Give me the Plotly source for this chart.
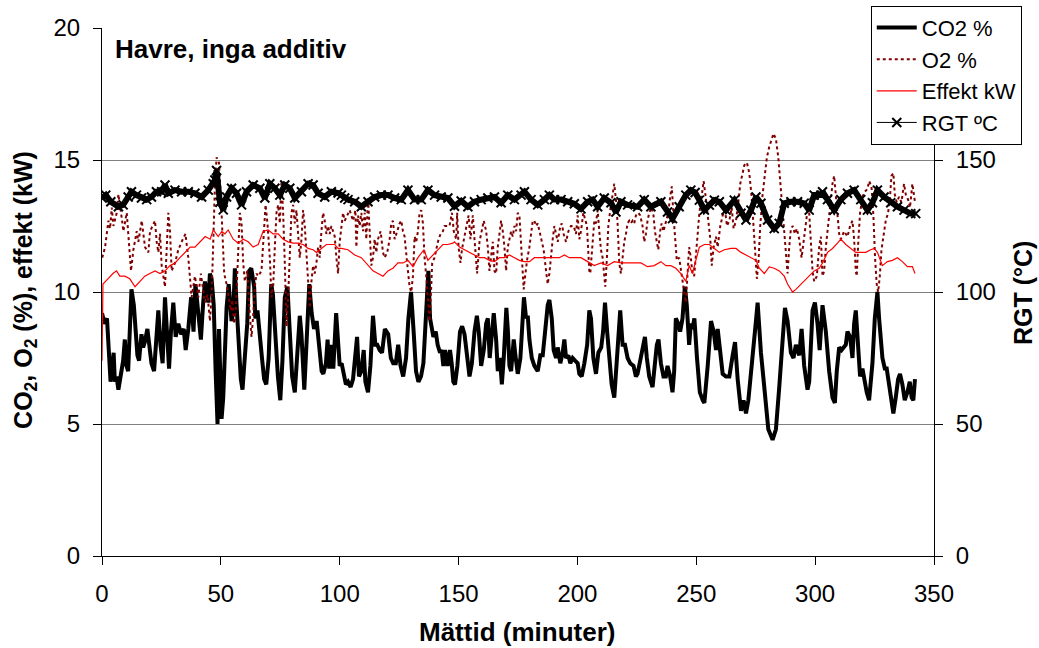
import plotly.graph_objects as go

# ---------------- data ----------------
co2_t = [0.0, 1.1, 2.1, 2.9, 3.6, 4.3, 4.9, 5.4, 6.1, 6.9, 7.8, 8.9, 9.6, 10.3, 11.0, 11.7, 12.4, 13.4, 14.1, 14.9,
         15.6, 16.6, 17.3, 18.0, 19.1, 20.1, 20.8, 21.9, 22.9, 23.7, 24.6, 25.5, 26.5, 27.6, 28.2, 29.0, 30.0, 31.0, 32.1, 33.3,
         34.4, 35.2, 36.3, 37.5, 38.5, 39.3, 40.4, 41.6, 42.5, 43.3, 44.7, 45.4, 46.1, 47.0, 47.8, 48.6, 49.2, 49.8, 50.3, 51.0,
         52.4, 53.3, 54.5, 55.2, 55.9, 56.6, 57.6, 58.4, 59.1, 60.1, 61.1, 61.9, 62.8, 64.0, 64.5, 65.4, 66.3, 67.3, 68.2, 69.1,
         70.1, 71.2, 71.9, 72.9, 74.0, 75.0, 75.9, 76.9, 78.0, 79.0, 80.0, 81.1, 82.2, 83.2, 83.9, 85.1, 86.0, 87.2, 88.2, 89.2,
         90.3, 91.2, 92.4, 93.1, 94.2, 94.9, 95.6, 96.3, 97.3, 98.5, 99.3, 100.0, 100.8, 101.9, 102.6, 103.5, 104.6, 105.6, 106.6, 107.3,
         108.1, 109.1, 110.1, 110.8, 111.9, 112.9, 114.0, 115.0, 115.8, 116.8, 117.8, 119.0, 120.4, 121.5, 122.5, 123.6, 124.6, 125.6, 126.7, 127.9,
         128.9, 130.0, 131.1, 132.1, 133.1, 134.2, 135.2, 136.6, 137.3, 138.0, 138.7, 139.4, 140.4, 141.2, 142.2, 142.9, 143.6, 144.3, 145.4, 146.4,
         147.1, 147.8, 148.5, 149.5, 150.6, 151.5, 152.5, 153.5, 154.6, 155.6, 156.7, 157.7, 158.5, 159.5, 160.6, 161.6, 162.3, 163.1, 164.0, 164.8,
         165.8, 166.5, 167.4, 168.2, 169.0, 170.1, 170.7, 171.4, 172.1, 173.2, 173.9, 174.9, 176.0, 177.0, 177.5, 178.4, 179.1, 179.8, 180.8, 181.9,
         183.3, 184.4, 185.4, 186.4, 187.5, 188.2, 189.2, 190.0, 191.0, 191.7, 192.8, 193.8, 194.5, 195.2, 196.2, 197.0, 198.0, 199.0, 200.1, 200.8,
         201.8, 202.9, 204.1, 205.0, 205.7, 206.7, 207.8, 208.8, 210.0, 210.8, 211.6, 212.5, 213.4, 214.4, 215.5, 216.5, 217.3, 218.0, 219.0, 220.0,
         221.1, 222.2, 223.6, 224.6, 225.3, 226.4, 227.4, 228.4, 229.2, 230.2, 231.6, 232.6, 233.4, 234.1, 235.1, 236.2, 237.2, 237.9, 239.0, 240.0,
         240.7, 241.4, 242.4, 243.2, 244.2, 245.2, 246.0, 247.0, 247.7, 248.4, 249.2, 250.3, 251.5, 252.7, 253.4, 254.8, 256.2, 257.3, 258.3, 259.0,
         260.1, 261.1, 262.5, 263.9, 265.3, 266.3, 267.4, 268.8, 269.9, 270.9, 271.9, 273.7, 275.1, 275.8, 277.2, 278.6, 280.3, 282.1, 283.5, 284.9,
         286.3, 287.3, 288.4, 289.8, 290.9, 291.9, 293.3, 294.3, 295.4, 296.8, 297.5, 298.9, 299.9, 301.0, 301.9, 303.1, 304.5, 305.9, 307.3, 308.3,
         309.1, 310.1, 311.1, 311.9, 312.9, 313.6, 314.7, 315.7, 316.4, 317.1, 317.8, 318.9, 319.9, 320.6, 321.7, 322.7, 324.1, 325.1, 326.2, 326.9,
         327.6, 328.3, 329.3, 330.1, 331.1, 332.1, 332.9, 333.9, 334.9, 335.7, 336.7, 337.7, 338.8, 339.8, 340.6, 341.3, 342.0]
co2_v = [9.2, 8.8, 9.0, 7.5, 6.6, 7.2, 7.7, 6.6, 6.8, 6.3, 6.9, 7.4, 8.2, 7.2, 7.0, 9.0, 10.1, 9.5, 8.4, 7.6,
         7.4, 8.4, 7.9, 8.1, 8.6, 7.6, 7.3, 7.0, 8.6, 9.3, 8.0, 7.3, 9.8, 8.0, 7.1, 8.5, 9.6, 8.3, 8.8, 8.4,
         8.6, 7.8, 8.6, 9.8, 8.5, 10.3, 9.2, 8.2, 9.5, 10.4, 9.6, 10.7, 10.5, 9.5, 7.0, 5.0, 8.6, 6.5, 5.2, 6.0,
         9.4, 10.3, 8.9, 9.2, 10.9, 9.5, 7.9, 6.7, 6.3, 7.5, 8.8, 10.8, 10.9, 10.2, 9.0, 9.3, 8.3, 7.5, 6.7, 6.5,
         7.5, 10.3, 9.9, 8.2, 6.8, 5.9, 7.4, 9.8, 10.2, 8.5, 6.8, 6.2, 7.5, 9.1, 8.4, 6.3, 8.0, 10.3, 9.2, 8.6,
         8.9, 8.1, 7.0, 6.9, 7.3, 8.2, 7.1, 8.0, 7.1, 9.2, 8.0, 7.2, 7.3, 6.7, 6.5, 6.6, 6.4, 6.7, 7.5, 8.3,
         6.8, 7.0, 7.8, 6.6, 6.2, 7.2, 9.1, 8.0, 8.0, 7.8, 7.7, 8.6, 8.4, 7.5, 7.3, 7.3, 8.0, 7.2, 6.8, 7.5,
         9.0, 10.0, 8.5, 7.0, 6.6, 6.8, 7.3, 9.5, 10.8, 9.0, 8.6, 8.3, 8.5, 8.0, 7.7, 7.8, 7.2, 7.8, 7.2, 7.8,
         7.3, 6.6, 6.5, 7.2, 8.5, 8.7, 8.4, 7.5, 6.8, 7.3, 8.5, 9.1, 8.5, 7.2, 7.8, 8.8, 9.0, 7.5, 8.6, 9.2,
         8.2, 7.0, 7.5, 6.5, 7.5, 9.4, 8.6, 7.2, 7.0, 8.2, 7.6, 6.9, 7.5, 9.0, 9.8, 9.0, 9.1, 8.2, 7.5, 7.2,
         7.0, 7.6, 7.6, 8.5, 9.5, 9.7, 9.0, 7.8, 7.5, 7.9, 7.3, 7.7, 8.2, 7.5, 7.6, 7.3, 7.5, 7.4, 7.3, 6.9,
         6.8, 7.3, 8.0, 9.3, 9.0, 7.5, 6.9, 7.7, 7.9, 8.5, 9.6, 8.5, 7.5, 6.5, 6.0, 7.3, 8.5, 9.3, 8.0, 8.0,
         7.5, 7.3, 7.2, 6.8, 6.9, 7.4, 8.0, 8.3, 7.5, 6.8, 6.4, 7.2, 8.0, 8.2, 7.3, 6.8, 6.8, 7.2, 6.8, 6.2,
         7.0, 9.0, 8.8, 8.5, 9.0, 10.2, 9.5, 8.0, 8.8, 8.6, 9.0, 7.5, 6.2, 5.9, 5.8, 7.2, 8.9, 8.5, 7.8, 8.6,
         7.7, 6.9, 6.8, 6.8, 7.6, 8.1, 6.7, 5.5, 5.9, 5.4, 5.9, 7.4, 8.9, 9.6, 7.7, 6.4, 4.8, 4.4, 4.8, 6.4,
         8.3, 9.4, 8.9, 7.7, 7.5, 8.0, 7.6, 8.6, 7.2, 6.3, 6.6, 9.3, 9.6, 8.8, 7.8, 9.5, 8.5, 7.0, 6.0, 5.8,
         7.0, 7.9, 7.8, 7.9, 8.0, 8.5, 8.3, 7.5, 8.8, 9.3, 8.5, 6.8, 7.1, 6.7, 6.2, 5.9, 7.3, 9.0, 10.0, 9.0,
         8.0, 7.5, 7.1, 7.1, 6.5, 5.8, 5.4, 6.0, 6.7, 6.9, 6.5, 5.9, 6.2, 6.6, 6.0, 5.9, 6.7]

o2_t = [0.1, 1.3, 2.7, 3.4, 4.1, 4.8, 6.2, 6.9, 8.3, 9.0, 10.4, 11.1, 12.2, 13.2, 14.6, 15.3, 16.7, 18.1, 19.5, 20.2,
        21.6, 22.3, 23.0, 23.7, 24.4, 25.1, 26.5, 27.2, 27.9, 28.6, 29.3, 30.7, 32.1, 33.5, 35.1, 36.3, 37.0, 37.7, 39.1, 40.5,
        41.6, 42.6, 43.3, 44.4, 45.4, 46.1, 46.8, 47.5, 48.2, 49.2, 50.0, 50.6, 51.4, 52.4, 53.4, 54.2, 54.8, 55.6, 56.2, 57.0,
        58.0, 58.7, 59.4, 60.1, 61.1, 62.2, 62.9, 63.6, 64.3, 65.0, 65.7, 67.1, 68.2, 68.8, 69.6, 70.6, 71.3, 72.0, 72.7, 73.4,
        74.1, 74.8, 75.5, 76.2, 76.9, 77.6, 78.3, 79.0, 79.7, 80.4, 81.1, 81.8, 82.5, 83.2, 83.9, 84.6, 85.3, 86.0, 86.7, 87.4,
        88.1, 88.8, 89.5, 90.2, 90.9, 91.6, 92.3, 93.0, 93.7, 94.4, 95.1, 95.8, 96.5, 97.2, 97.9, 98.6, 99.3, 100.0, 100.7, 101.4,
        102.1, 104.2, 105.6, 106.6, 107.0, 107.7, 108.4, 109.1, 109.8, 110.5, 111.2, 111.9, 112.6, 113.3, 114.0, 114.7, 115.4, 116.1, 117.2, 118.2,
        118.9, 120.0, 121.0, 121.7, 122.4, 123.1, 124.2, 125.2, 125.9, 126.6, 127.3, 128.0, 128.7, 129.4, 130.1, 130.8, 131.5, 132.2, 132.9, 133.6,
        134.3, 135.0, 135.7, 136.4, 137.1, 137.8, 138.5, 138.9, 139.9, 141.3, 142.4, 143.4, 144.1, 145.2, 146.2, 147.2, 148.0, 149.0, 149.4, 150.0,
        150.8, 151.4, 152.5, 153.6, 154.2, 155.0, 156.0, 156.7, 157.4, 157.8, 158.8, 159.8, 160.6, 161.6, 162.3, 163.0, 163.7, 164.4, 165.1, 165.8,
        166.5, 167.2, 167.9, 168.6, 169.3, 170.0, 170.7, 171.4, 172.1, 172.8, 173.5, 174.2, 174.9, 175.6, 176.3, 177.0, 177.4, 178.0, 178.8, 179.8,
        180.5, 181.2, 181.9, 182.6, 183.3, 184.0, 184.7, 185.8, 186.8, 187.5, 188.2, 188.9, 189.6, 190.3, 191.0, 191.7, 192.8, 193.4, 194.2, 195.2,
        196.2, 197.3, 198.4, 199.4, 200.1, 200.8, 201.5, 202.5, 204.0, 204.6, 205.0, 205.4, 206.4, 207.1, 207.8, 208.5, 209.2, 209.9, 210.6, 211.3,
        211.7, 212.4, 213.0, 213.8, 214.8, 215.5, 216.2, 216.9, 217.6, 218.3, 219.0, 219.7, 220.4, 221.1, 221.8, 222.5, 223.2, 223.9, 224.6, 225.6,
        226.4, 227.4, 228.1, 228.8, 229.5, 230.2, 231.2, 232.0, 232.6, 233.4, 234.0, 234.8, 235.4, 236.2, 237.2, 238.2, 239.0, 239.7, 240.4, 241.0,
        241.8, 242.8, 243.5, 244.2, 244.9, 245.6, 246.3, 247.0, 247.7, 248.4, 249.1, 249.8, 250.5, 251.3, 252.3, 253.1, 254.1, 255.1, 255.9, 256.5,
        257.3, 258.3, 259.0, 260.1, 261.1, 262.1, 262.9, 263.9, 264.9, 265.7, 266.7, 267.7, 268.5, 269.5, 270.2, 271.3, 272.3, 273.3, 274.1, 274.8,
        275.5, 276.2, 276.9, 277.9, 278.9, 279.7, 280.7, 281.7, 282.5, 283.5, 284.5, 285.3, 286.0, 287.0, 287.8, 288.4, 289.1, 289.8, 290.6, 291.5,
        292.3, 293.3, 294.3, 295.1, 296.1, 296.8, 297.5, 298.2, 298.9, 299.6, 300.7, 301.7, 302.4, 303.1, 303.8, 304.5, 305.2, 305.9, 306.6, 307.3,
        308.0, 308.7, 309.4, 310.1, 310.8, 312.2, 313.6, 314.7, 315.7, 316.4, 317.1, 317.5, 318.2, 318.9, 319.9, 320.9, 322.0, 322.7, 323.7, 324.5,
        325.2, 325.9, 326.5, 327.2, 327.9, 329.0, 329.7, 330.7, 331.5, 332.1, 332.9, 333.5, 334.3, 335.3, 336.3, 337.4, 338.1, 339.1, 339.9, 340.9,
        341.6, 342.0]
o2_v = [11.3, 11.7, 12.7, 12.4, 13.2, 12.5, 13.0, 13.7, 12.8, 12.3, 13.0, 12.1, 10.8, 11.6, 12.3, 11.9, 12.7, 11.7, 11.5, 12.3,
        12.6, 12.7, 11.9, 11.5, 12.2, 11.0, 10.2, 11.7, 13.0, 12.3, 10.8, 11.1, 11.6, 11.9, 12.2, 11.3, 10.4, 9.8, 10.6, 9.8,
        10.7, 10.1, 9.6, 9.9, 8.9, 9.8, 12.3, 14.0, 15.1, 14.9, 13.6, 12.3, 10.7, 10.3, 9.8, 9.3, 9.7, 8.8, 9.2, 11.1,
        13.0, 12.6, 11.1, 10.4, 10.8, 9.1, 8.3, 9.1, 10.2, 10.7, 10.6, 10.8, 12.3, 13.3, 12.6, 11.3, 9.8, 10.2, 11.7, 13.0,
        13.3, 12.6, 14.2, 13.0, 11.1, 8.7, 9.8, 11.3, 13.0, 13.3, 12.6, 13.1, 12.3, 11.3, 12.0, 13.1, 12.5, 11.3, 10.1, 9.4,
        10.4, 11.0, 10.7, 11.1, 11.7, 11.3, 12.3, 13.0, 12.7, 12.2, 12.5, 12.2, 12.5, 12.3, 12.1, 11.3, 10.7, 11.9, 12.5, 13.0,
        12.7, 13.1, 12.7, 13.1, 11.7, 12.9, 12.5, 13.0, 12.3, 13.0, 12.0, 13.6, 12.3, 11.0, 11.3, 12.0, 11.5, 12.0, 12.3, 11.5,
        11.3, 11.5, 12.0, 12.6, 12.7, 12.0, 12.3, 12.6, 12.7, 12.3, 12.1, 11.3, 10.8, 10.2, 10.0, 10.6, 12.1, 11.9, 12.3, 13.0,
        13.1, 12.6, 11.3, 10.6, 9.6, 8.9, 10.2, 11.1, 11.3, 11.9, 12.2, 12.3, 12.5, 12.5, 12.5, 13.0, 12.3, 12.0, 13.0, 11.7,
        11.1, 11.6, 12.1, 12.5, 12.9, 12.0, 12.9, 12.0, 11.1, 10.7, 11.9, 12.3, 12.7, 12.3, 11.7, 10.8, 11.3, 11.9, 10.8, 10.7,
        11.7, 12.2, 12.7, 12.3, 11.7, 10.8, 11.7, 12.0, 12.3, 12.1, 12.5, 12.3, 13.0, 12.9, 11.7, 10.6, 10.1, 10.6, 11.2, 11.7,
        12.3, 12.7, 12.7, 12.5, 12.6, 12.3, 12.0, 11.6, 10.8, 10.3, 10.7, 11.5, 12.0, 12.5, 12.2, 11.9, 12.5, 12.6, 12.2, 11.9,
        12.3, 12.5, 12.5, 12.2, 12.9, 12.0, 12.3, 13.0, 12.5, 11.7, 10.8, 10.7, 12.1, 12.7, 12.6, 13.1, 12.3, 11.6, 11.3, 10.6,
        10.2, 11.3, 12.5, 13.1, 13.6, 14.1, 13.5, 12.6, 11.1, 10.7, 11.3, 11.9, 12.2, 12.6, 12.7, 12.6, 12.7, 12.6, 12.9, 13.0,
        12.9, 12.5, 11.9, 12.2, 12.7, 13.0, 13.2, 12.9, 12.3, 11.9, 11.6, 12.3, 12.6, 12.3, 12.7, 13.0, 13.6, 14.0, 12.9, 12.0,
        11.2, 11.3, 10.8, 10.4, 10.0, 9.6, 10.8, 11.7, 11.3, 10.7, 10.6, 11.5, 12.1, 13.0, 13.7, 14.2, 13.5, 12.7, 12.0, 11.0,
        11.7, 12.1, 11.7, 12.5, 12.9, 13.1, 12.5, 12.7, 13.2, 12.4, 12.7, 13.4, 14.1, 14.5, 14.8, 14.9, 14.5, 13.6, 12.6, 11.5,
        10.5, 11.2, 12.5, 13.7, 14.6, 15.1, 15.5, 15.8, 16.0, 15.8, 15.1, 14.2, 13.4, 12.4, 11.2, 10.7, 11.7, 12.4, 12.5, 12.2,
        12.4, 12.0, 11.3, 11.9, 12.7, 13.1, 13.0, 11.7, 10.8, 10.4, 10.6, 11.7, 12.1, 10.6, 10.8, 11.7, 12.3, 13.0, 13.6, 14.1,
        14.4, 13.6, 12.7, 12.2, 12.0, 12.3, 12.1, 12.5, 12.7, 12.0, 10.8, 10.6, 12.0, 13.0, 13.6, 13.8, 13.9, 14.2, 14.0, 12.9,
        11.3, 10.3, 10.0, 10.6, 11.6, 12.2, 12.7, 13.0, 13.6, 14.4, 14.5, 13.7, 13.4, 13.6, 13.4, 14.1, 13.7, 13.5, 13.2, 14.1,
        13.6, 13.4]

eff_t = [0.0, 0.4, 2.5, 4.6, 6.1, 7.5, 9.6, 11.7, 13.9, 16.0, 18.0, 20.1, 22.3, 24.4, 26.5, 28.6, 30.7, 32.8, 35.0, 37.1,
         39.1, 41.3, 43.4, 45.5, 46.8, 48.9, 50.4, 51.7, 53.1, 55.2, 57.3, 59.4, 61.5, 63.6, 65.7, 67.8, 69.9, 72.0, 74.1, 76.2,
         78.3, 80.4, 82.5, 84.6, 86.7, 88.8, 90.2, 92.3, 94.4, 96.5, 97.9, 99.3, 100.7, 103.5, 106.3, 109.1, 111.9, 114.0, 116.1, 118.2,
         120.3, 122.4, 124.5, 126.6, 128.7, 130.8, 132.9, 135.4, 137.1, 139.2, 141.3, 143.4, 145.5, 147.6, 148.3, 150.4, 152.5, 154.6, 156.7, 158.8,
         160.9, 163.0, 165.1, 167.2, 169.3, 171.4, 173.5, 175.6, 177.7, 179.8, 181.9, 184.0, 186.1, 188.2, 190.3, 192.4, 194.5, 196.6, 198.7, 201.5,
         204.3, 207.1, 209.9, 212.7, 215.5, 218.3, 221.1, 223.9, 226.7, 229.5, 232.3, 235.1, 237.2, 239.3, 241.4, 243.5, 245.6, 247.0, 248.4, 249.8,
         251.3, 253.4, 255.5, 257.6, 259.7, 261.8, 264.6, 266.7, 268.8, 270.9, 273.0, 275.1, 276.5, 278.6, 280.7, 282.8, 284.9, 287.0, 288.4, 290.5,
         291.9, 294.0, 296.1, 298.2, 299.6, 301.7, 303.1, 305.2, 307.3, 309.4, 310.8, 312.9, 315.0, 317.1, 319.2, 321.3, 323.4, 324.8, 326.2, 328.3,
         330.4, 332.5, 334.6, 336.7, 338.8, 340.9, 342.0]
eff_v = [7.4, 10.3, 10.5, 10.7, 10.8, 10.6, 10.6, 10.5, 10.2, 10.4, 10.6, 10.7, 10.8, 10.7, 10.8, 11.0, 11.1, 11.3, 11.5, 11.7,
         11.7, 11.9, 12.1, 12.0, 12.35, 12.1, 12.3, 12.2, 12.35, 12.0, 11.85, 12.0, 11.9, 11.7, 11.8, 12.3, 12.35, 12.2, 12.2, 12.0,
         11.9, 11.85, 11.85, 11.8, 11.65, 11.6, 11.5, 11.65, 11.8, 11.8, 11.8, 11.65, 11.65, 11.6, 11.4, 11.3, 11.0, 10.8, 10.7, 10.6,
         10.8, 10.9, 11.1, 11.1, 11.2, 10.96, 11.3, 11.6, 11.2, 11.4, 11.6, 11.8, 11.8, 11.85, 11.9, 11.7, 11.6, 11.5, 11.4, 11.3,
         11.3, 11.2, 11.15, 11.3, 11.3, 11.4, 11.3, 11.2, 11.15, 11.15, 11.3, 11.3, 11.3, 11.3, 11.3, 11.3, 11.4, 11.3, 11.3, 11.3,
         11.15, 11.0, 11.1, 11.0, 11.15, 11.1, 11.1, 11.1, 11.1, 10.96, 11.0, 11.15, 11.0, 11.0, 10.9, 10.7, 10.4, 11.0, 10.7, 11.2,
         11.7, 11.8, 11.8, 11.65, 11.5, 11.6, 11.65, 11.65, 11.5, 11.4, 11.3, 11.2, 10.9, 10.7, 10.95, 10.9, 10.8, 10.6, 10.3, 10.0,
         10.1, 10.3, 10.5, 10.7, 10.8, 10.9, 11.1, 11.5, 11.65, 11.85, 12.0, 11.8, 11.65, 11.5, 11.5, 11.5, 11.6, 11.65, 11.5, 11.0,
         11.15, 11.2, 11.3, 11.15, 10.96, 10.96, 10.7]

rgt_t = [0.1, 1.6, 3.7, 6.9, 8.9, 11.0, 12.4, 14.5, 16.6, 18.8, 20.8, 22.9, 25.1, 26.5, 27.9, 30.7, 33.5, 36.3, 39.1, 41.9,
         44.7, 46.8, 47.5, 48.2, 49.6, 51.0, 52.4, 54.5, 56.6, 58.7, 60.8, 63.6, 66.4, 68.5, 70.6, 72.7, 74.8, 76.9, 79.0, 81.1,
         83.9, 86.7, 88.8, 90.9, 93.7, 96.5, 99.3, 100.7, 102.1, 103.5, 106.3, 109.1, 111.9, 114.7, 117.5, 120.3, 123.1, 125.9, 128.7, 131.5,
         134.3, 137.1, 139.9, 142.7, 145.5, 148.3, 151.1, 153.9, 156.7, 159.5, 162.3, 165.1, 167.9, 170.7, 173.5, 176.3, 177.7, 180.5, 183.3, 186.1,
         188.2, 190.3, 193.1, 195.9, 198.7, 201.5, 204.3, 206.4, 208.5, 211.3, 214.1, 216.2, 218.3, 221.1, 225.3, 228.1, 230.9, 235.1, 237.9, 240.0,
         242.8, 245.6, 247.7, 249.5, 251.3, 253.4, 255.5, 257.6, 259.7, 262.5, 266.0, 268.8, 270.9, 273.0, 275.1, 277.2, 280.0, 282.8, 284.9, 287.0,
         289.8, 292.6, 295.4, 297.5, 299.6, 302.4, 303.1, 305.2, 308.0, 310.8, 313.6, 316.4, 319.2, 322.0, 324.1, 326.2, 329.0, 331.8, 334.6, 337.4,
         340.2, 342.3]
rgt_v = [135.6, 136.7, 134.2, 132.3, 133.0, 136.0, 138.0, 136.7, 135.6, 135.0, 136.0, 138.0, 138.0, 140.5, 137.4, 138.6, 138.0, 138.0, 137.4, 136.0,
         138.6, 141.0, 142.4, 146.0, 134.0, 131.1, 136.0, 139.3, 137.4, 133.0, 138.0, 140.5, 139.3, 135.6, 141.0, 139.3, 136.7, 140.5, 139.3, 135.6,
         138.0, 141.0, 140.5, 137.4, 136.0, 138.0, 137.5, 136.7, 135.6, 135.0, 134.2, 132.3, 134.2, 136.0, 136.7, 136.7, 135.6, 135.0, 138.6, 135.0,
         135.0, 138.6, 136.7, 136.0, 135.6, 132.5, 134.5, 132.3, 134.2, 135.0, 135.6, 136.0, 133.8, 136.7, 135.0, 136.7, 138.0, 135.0, 133.0, 135.0,
         136.7, 135.0, 135.0, 134.2, 133.4, 131.5, 134.2, 135.0, 132.3, 135.6, 133.8, 130.3, 134.2, 133.0, 132.3, 135.0, 132.3, 134.2, 130.3, 127.8,
         132.3, 136.7, 138.6, 137.7, 134.8, 131.0, 132.9, 134.8, 134.2, 131.0, 134.8, 129.8, 127.3, 131.0, 136.0, 133.6, 127.3, 124.0, 126.0, 133.6,
         134.2, 134.2, 133.6, 131.0, 136.7, 136.7, 138.0, 135.0, 131.0, 135.0, 137.4, 138.6, 135.0, 131.0, 133.8, 138.6, 136.0, 133.8, 132.3, 131.0,
         129.7, 129.7]

x_ticks = [0, 50, 100, 150, 200, 250, 300, 350]
y_ticks = [0, 5, 10, 15, 20]
y2_ticks = [0, 50, 100, 150]

FONT = "Liberation Sans, Arial, sans-serif"

fig = go.Figure()
fig.add_trace(go.Scatter(x=co2_t, y=co2_v, name="CO2 %", mode="lines",
                         line=dict(color="black", width=4)))
fig.add_trace(go.Scatter(x=o2_t, y=o2_v, name="O2 %", mode="lines",
                         line=dict(color="#800000", width=2, dash="dot")))
fig.add_trace(go.Scatter(x=eff_t, y=eff_v, name="Effekt kW", mode="lines",
                         line=dict(color="#FF0000", width=1.2)))
# dense marker band of the RGT series (same data, drawn as a thick band)
fig.add_trace(go.Scatter(x=rgt_t, y=rgt_v, name="RGT band", mode="lines", yaxis="y2",
                         showlegend=False, hoverinfo="skip",
                         line=dict(color="black", width=6)))
fig.add_trace(go.Scatter(x=rgt_t, y=rgt_v, name="RGT ºC", mode="lines+markers", yaxis="y2",
                         line=dict(color="black", width=1),
                         marker=dict(symbol="x-thin", size=9, color="black",
                                     line=dict(color="black", width=2))))

axis_common = dict(showline=True, linecolor="black", linewidth=1, ticks="outside",
                   ticklen=8, tickcolor="black", tickwidth=1, zeroline=False,
                   tickfont=dict(family=FONT, size=24, color="black"))

fig.update_layout(
    width=1039, height=648,
    margin=dict(l=102, r=105, t=28, b=92, autoexpand=False),
    paper_bgcolor="white", plot_bgcolor="white",
    font=dict(family=FONT, color="black"),
    showlegend=True,
    xaxis=dict(range=[0, 350], tickvals=x_ticks, showgrid=False, ticklabelstandoff=8,
               **axis_common),
    yaxis=dict(range=[0, 20], tickvals=y_ticks, showgrid=True, gridcolor="#808080",
               gridwidth=1, ticklabelstandoff=8, **axis_common),
    yaxis2=dict(range=[0, 200], tickvals=y2_ticks, overlaying="y", side="right",
                showgrid=False, ticklabelstandoff=8, **axis_common),
    legend=dict(x=0.924, y=1.042, xanchor="left", yanchor="top",
                bgcolor="white", bordercolor="black", borderwidth=1,
                font=dict(family=FONT, size=22, color="black"),
                tracegroupgap=0, itemwidth=40),
    annotations=[
        dict(text="<b>Havre, inga additiv</b>", xref="paper", yref="paper",
             x=0.0132, y=0.961, xanchor="left", yanchor="middle", showarrow=False,
             font=dict(family=FONT, size=26, color="black")),
        dict(text="<b>CO<sub>2</sub>, O<sub>2</sub> (%), effekt (kW)</b>", xref="paper", yref="paper",
             x=-0.0925, y=0.504, xanchor="center", yanchor="middle", textangle=-90, showarrow=False,
             font=dict(family=FONT, size=25, color="black")),
        dict(text="<b>RGT (°C)</b>", xref="paper", yref="paper",
             x=1.107, y=0.498, xanchor="center", yanchor="middle", textangle=-90, showarrow=False,
             font=dict(family=FONT, size=25, color="black")),
        dict(text="<b>Mättid (minuter)</b>", xref="paper", yref="paper",
             x=0.499, y=-0.144, xanchor="center", yanchor="middle", showarrow=False,
             font=dict(family=FONT, size=26, color="black")),
    ],
)

fig.write_html("out.html")
